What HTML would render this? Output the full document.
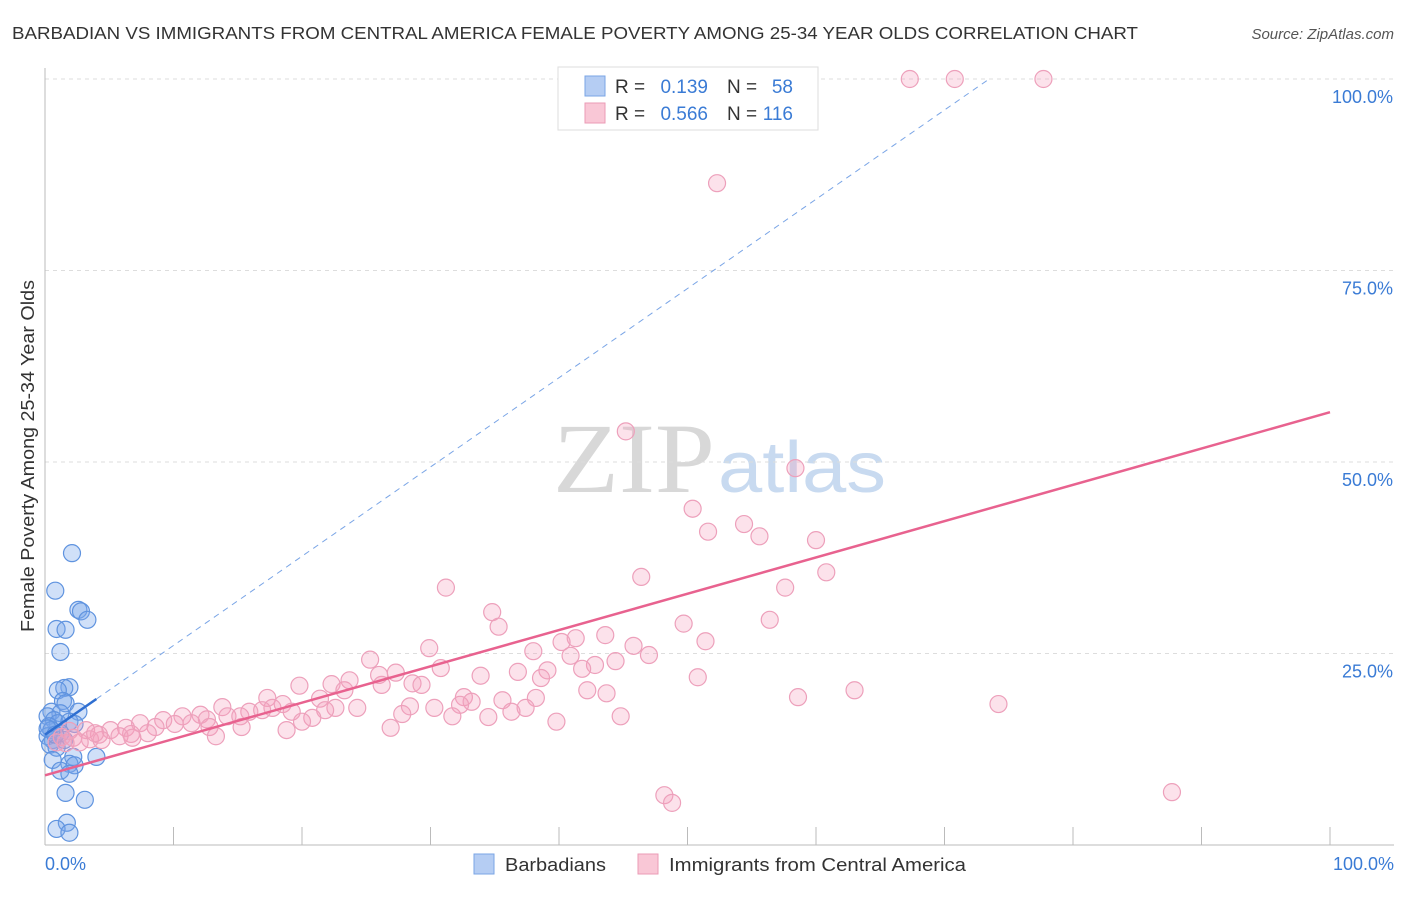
<!DOCTYPE html>
<html><head><meta charset="utf-8"><style>
body{margin:0;background:#fff;font-family:"Liberation Sans",sans-serif}
svg text{font-family:"Liberation Sans",sans-serif}
svg text.serif{font-family:"Liberation Serif",serif}
</style></head><body>
<svg id="chart" width="1406" height="892">
<text x="12" y="39" font-size="17.5" fill="#333" textLength="1126" lengthAdjust="spacingAndGlyphs">BARBADIAN VS IMMIGRANTS FROM CENTRAL AMERICA FEMALE POVERTY AMONG 25-34 YEAR OLDS CORRELATION CHART</text>
<text x="1394" y="39" font-size="15" fill="#555" font-style="italic" text-anchor="end">Source: ZipAtlas.com</text>
<g>
<text class="serif" x="553" y="492" font-size="100" fill="#d8d8d8" textLength="162" lengthAdjust="spacingAndGlyphs">ZIP</text>
<text x="718" y="492" font-size="72" fill="#c8daf0" textLength="168" lengthAdjust="spacingAndGlyphs">atlas</text>
</g>
<g id="grid"></g><g id="axes"></g><g id="marks"></g>
<text transform="translate(34,456) rotate(-90)" font-size="18" fill="#333" text-anchor="middle" textLength="352" lengthAdjust="spacingAndGlyphs">Female Poverty Among 25-34 Year Olds</text>
<g>
<rect x="558" y="67" width="260" height="63" fill="#fff" stroke="#ddd"/>
<rect x="585" y="76" width="20" height="20" fill="#b5cdf3" stroke="#7aa5e6"/>
<rect x="585" y="103" width="20" height="20" fill="#f9c7d6" stroke="#eb9bb6"/>
<text x="615" y="93" font-size="19" fill="#333">R =</text>
<text x="708" y="93" font-size="19" fill="#3a7bd5" text-anchor="end">0.139</text>
<text x="727" y="93" font-size="19" fill="#333">N =</text>
<text x="793" y="93" font-size="19" fill="#3a7bd5" text-anchor="end">58</text>
<text x="615" y="120" font-size="19" fill="#333">R =</text>
<text x="708" y="120" font-size="19" fill="#3a7bd5" text-anchor="end">0.566</text>
<text x="727" y="120" font-size="19" fill="#333">N =</text>
<text x="793" y="120" font-size="19" fill="#3a7bd5" text-anchor="end">116</text>
</g>
<g>
<rect x="474" y="854" width="20" height="20" fill="#b5cdf3" stroke="#7aa5e6"/>
<text x="505" y="871" font-size="18" fill="#333" textLength="101" lengthAdjust="spacingAndGlyphs">Barbadians</text>
<rect x="638" y="854" width="20" height="20" fill="#f9c7d6" stroke="#eb9bb6"/>
<text x="669" y="871" font-size="18" fill="#333" textLength="297" lengthAdjust="spacingAndGlyphs">Immigrants from Central America</text>
</g>
</svg>
<script>
const yTicks=[25,50,75,100];
const yTickLabels=["25.0%","50.0%","75.0%","100.0%"];
const xTickLabels=["0.0%","100.0%"];
const blueX=[2.1,0.8,2.6,2.8,3.3,0.9,1.6,1.2,1.9,1.5,1.0,1.4,1.6,2.6,0.5,1.2,0.2,0.7,1.0,1.9,2.3,0.3,0.5,1.2,0.2,0.6,1.5,0.4,0.9,2.2,4.0,0.6,1.9,2.3,1.2,1.9,1.6,3.1,1.7,0.9,1.9,0.2,0.8];
const blueY=[38.1,33.2,30.7,30.5,29.4,28.2,28.1,25.2,20.6,20.5,20.2,18.8,18.5,17.4,17.4,17.2,16.8,16.3,15.9,16.1,15.8,15.5,15.0,14.6,14.2,13.7,13.7,13.1,12.7,11.5,11.5,11.1,10.6,10.4,9.7,9.3,6.8,5.9,2.9,2.1,1.6,15.2,14.4];
const pinkX=[67.3,70.8,77.7,52.3,45.2,58.4,50.4,51.6,54.4,55.6,60.0,60.8,46.4,31.2,57.6,34.8,35.3,56.4,49.7,41.3,43.6,40.2,51.4,45.8,29.9,38.0,47.0,40.9,44.4,42.8,25.3,30.8,36.8,39.1,41.8,33.9,27.3,26.0,23.7,50.8,38.6,22.3,28.6,29.3,26.2,19.8,23.3,63.0,42.2,43.7,32.6,58.6,17.3,21.4,38.2,35.6,33.2,74.2,28.4,32.3,18.5,17.7,22.6,24.3,30.3,37.4,16.9,15.9,13.8,19.2,21.8,36.3,27.8,31.7,34.5,44.8,14.2,15.2,10.7,12.1,12.6,20.8,20.0,9.2,7.4,10.1,11.4,39.8,26.9,18.8,15.3,12.8,8.6,6.3,5.1,3.2,8.0,6.7,5.8,4.2,13.3,2.2,3.5,1.3,6.8,4.4,2.7,1.6,48.2,48.8,87.7,0.9,1.9,3.9];
const pinkY=[100,100,100,86.4,54.0,49.2,43.9,40.9,41.9,40.3,39.8,35.6,35.0,33.6,33.6,30.4,28.5,29.4,28.9,27.0,27.4,26.5,26.6,26.0,25.7,25.3,24.8,24.7,24.0,23.5,24.2,23.1,22.6,22.8,23.0,22.1,22.5,22.2,21.5,21.9,21.8,21.0,21.1,20.9,20.9,20.8,20.2,20.2,20.2,19.8,19.3,19.3,19.2,19.1,19.2,18.9,18.7,18.4,18.1,18.3,18.4,17.9,17.9,17.9,17.9,17.9,17.6,17.4,18.0,17.4,17.6,17.4,17.1,16.8,16.7,16.8,16.8,16.8,16.8,17.0,16.4,16.6,16.1,16.3,15.9,15.8,15.9,16.1,15.3,15.0,15.4,15.4,15.4,15.3,15.0,15.0,14.6,14.5,14.2,14.4,14.2,14.0,13.8,14.1,14.0,13.7,13.4,13.3,6.5,5.5,6.9,13.4,14.9,14.6];
const pinkTrend=[9.1,56.5];
const blueTrend=[14.4,1.165];
const NS="http://www.w3.org/2000/svg";
const sx=v=>45+v*12.85, sy=v=>845-v*7.66;
function mk(tag,attrs,parent){const e=document.createElementNS(NS,tag);for(const k in attrs)e.setAttribute(k,attrs[k]);document.getElementById(parent).appendChild(e);return e;}
yTicks.forEach((t,i)=>{
 const l=mk('line',{x1:45,x2:1394,y1:sy(t),y2:sy(t),stroke:'#ddd','stroke-dasharray':'4,4'},'grid');
 
 
 const tx=mk('text',{x:1393,y:sy(t)+24,'font-size':18,fill:'#3a7bd5','text-anchor':'end'},'axes');
 tx.textContent=yTickLabels[i];
 
 
});
mk('line',{x1:45,x2:45,y1:68,y2:845,stroke:'#bbb'},'axes');
mk('line',{x1:45,x2:1394,y1:845,y2:845,stroke:'#bbb'},'axes');
for(let i=0;i<=10;i++){const t=mk('line',{x1:sx(i*10),x2:sx(i*10),y1:827,y2:845,stroke:'#bbb'},'axes');}
[[0,'start',45],[100,'end',1394]].forEach((d,i)=>{const t=mk('text',{x:d[2],y:870,'font-size':18,fill:'#3a7bd5','text-anchor':d[1]},'axes');t.textContent=xTickLabels[i];});
blueX.forEach((x,i)=>{const c=mk('circle',{cx:sx(x),cy:sy(blueY[i]),r:8.5,fill:'rgba(120,165,235,0.35)',stroke:'#5f93df','stroke-width':1.2},'marks');});
pinkX.forEach((x,i)=>{const c=mk('circle',{cx:sx(x),cy:sy(pinkY[i]),r:8.5,fill:'rgba(245,160,190,0.3)',stroke:'#eda0bb','stroke-width':1.2},'marks');});
const pl=mk('line',{x1:sx(0),y1:sy(pinkTrend[0]),x2:sx(100),y2:sy(pinkTrend[1]),stroke:'#e8628f','stroke-width':2.5},'marks');


const xEnd=(100-blueTrend[0])/blueTrend[1];
const bd=mk('line',{x1:sx(4),y1:sy(blueTrend[0]+blueTrend[1]*4),x2:sx(xEnd),y2:sy(100),stroke:'#7aa5e6','stroke-width':1,'stroke-dasharray':'6,5'},'marks');


const bl=mk('line',{x1:sx(0),y1:sy(blueTrend[0]),x2:sx(4),y2:sy(blueTrend[0]+blueTrend[1]*4),stroke:'#2f6fd1','stroke-width':2.5},'marks');


</script>
</body></html>
